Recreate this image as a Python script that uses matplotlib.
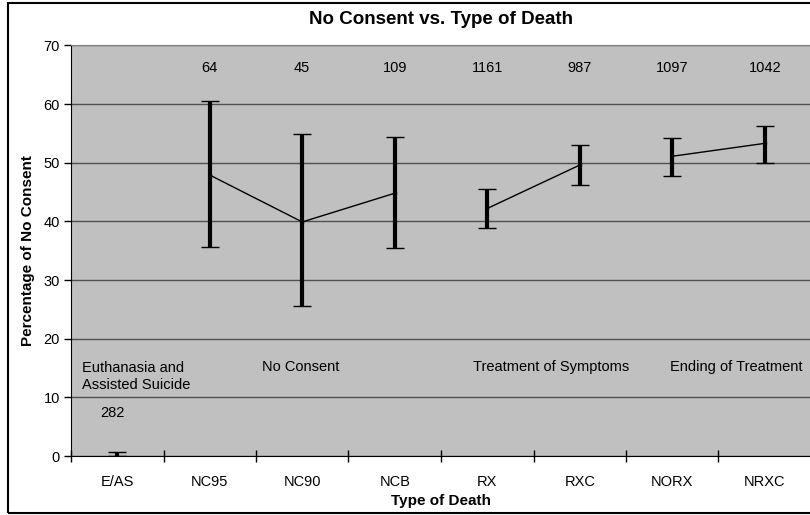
import matplotlib.pyplot as plt
from matplotlib.patches import Rectangle

plt.rcParams['font.family'] = ['Liberation Sans', 'DejaVu Sans']

# Dados
categorias = ['E/AS', 'NC95', 'NC90', 'NCB', 'RX', 'RXC', 'NORX', 'NRXC']
medias = [0.0, 47.9, 39.9, 44.8, 42.2, 49.6, 51.1, 53.3]
limite_sup = [0.6, 60.6, 54.9, 54.3, 45.6, 53.1, 54.2, 56.3]
limite_inf = [0.0, 35.6, 25.5, 35.5, 38.8, 46.2, 47.8, 49.9]
contagens = ['282', '64', '45', '109', '1161', '987', '1097', '1042']
# grupos ligados por linha (índices das categorias)
grupos = [[0], [1, 2, 3], [4, 5], [6, 7]]
nomes_grupos = ['Euthanasia and\nAssisted Suicide', 'No Consent',
                'Treatment of Symptoms', 'Ending of Treatment']
pos_grupos = [0.12, 2.07, 4.35, 6.48]

fig = plt.figure(figsize=(8.1, 5.15), dpi=100)
ax = fig.add_axes([71 / 810, 59 / 515, 740 / 810, 410.6 / 515])
ax.set_facecolor('#c0c0c0')

x = [i + 0.5 for i in range(len(categorias))]
erro_inf = [m - l for m, l in zip(medias, limite_inf)]
erro_sup = [u - m for m, u in zip(medias, limite_sup)]

ax.errorbar(x, medias, yerr=[erro_inf, erro_sup], fmt='none', ecolor='black',
            elinewidth=3, capsize=6.5, capthick=1, zorder=3)
for g in grupos:
    ax.plot([x[i] for i in g], [medias[i] for i in g], color='black', lw=1,
            marker='s', markersize=2, zorder=4)

# Números no topo e no E/AS
for i, c in enumerate(contagens):
    if i == 0:
        ax.text(x[i] - 0.05, 7.4, c, ha='center', va='center', fontsize=10.5)
    else:
        ax.text(x[i], 66.1, c, ha='center', va='center', fontsize=10.5)

for nome, px in zip(nomes_grupos, pos_grupos):
    if '\n' in nome:
        ax.text(px, 13.6, nome, ha='left', va='center', fontsize=10.5, linespacing=1.25)
    else:
        ax.text(px, 15.2, nome, ha='left', va='center', fontsize=10.5)

ax.set_xlim(0, 8)
ax.set_ylim(0, 70)
ax.set_yticks(range(0, 71, 10))
ax.yaxis.grid(True, color='#505050', lw=1)
ax.set_axisbelow(True)

ax.set_xticks(range(0, 9))
ax.set_xticklabels([])
ax.set_xticks(x, minor=True)
ax.set_xticklabels(categorias, minor=True, fontsize=10.5)
ax.tick_params(axis='x', which='minor', length=0, pad=14)
ax.tick_params(axis='x', which='major', direction='inout', length=8, width=1)
ax.tick_params(axis='y', direction='out', length=5, width=1, labelsize=10.5, pad=3)

for lado in ['top', 'right']:
    ax.spines[lado].set_color('#808080')
ax.spines['left'].set_color('black')
ax.spines['bottom'].set_color('black')

ax.set_xlabel('Type of Death', fontsize=11, fontweight='bold', labelpad=3)
ax.set_ylabel('Percentage of No Consent', fontsize=11, fontweight='bold', labelpad=6)
fig.text(441 / 810, 1 - 19 / 515, 'No Consent vs. Type of Death', ha='center',
         va='center', fontsize=13.5, fontweight='bold')

# Moldura externa
fig.patches.append(Rectangle((8 / 810, 2 / 515), 810 / 810, 510 / 515,
                             transform=fig.transFigure, fill=False,
                             edgecolor='black', lw=1.5))

fig.savefig('out.png', dpi=100)
